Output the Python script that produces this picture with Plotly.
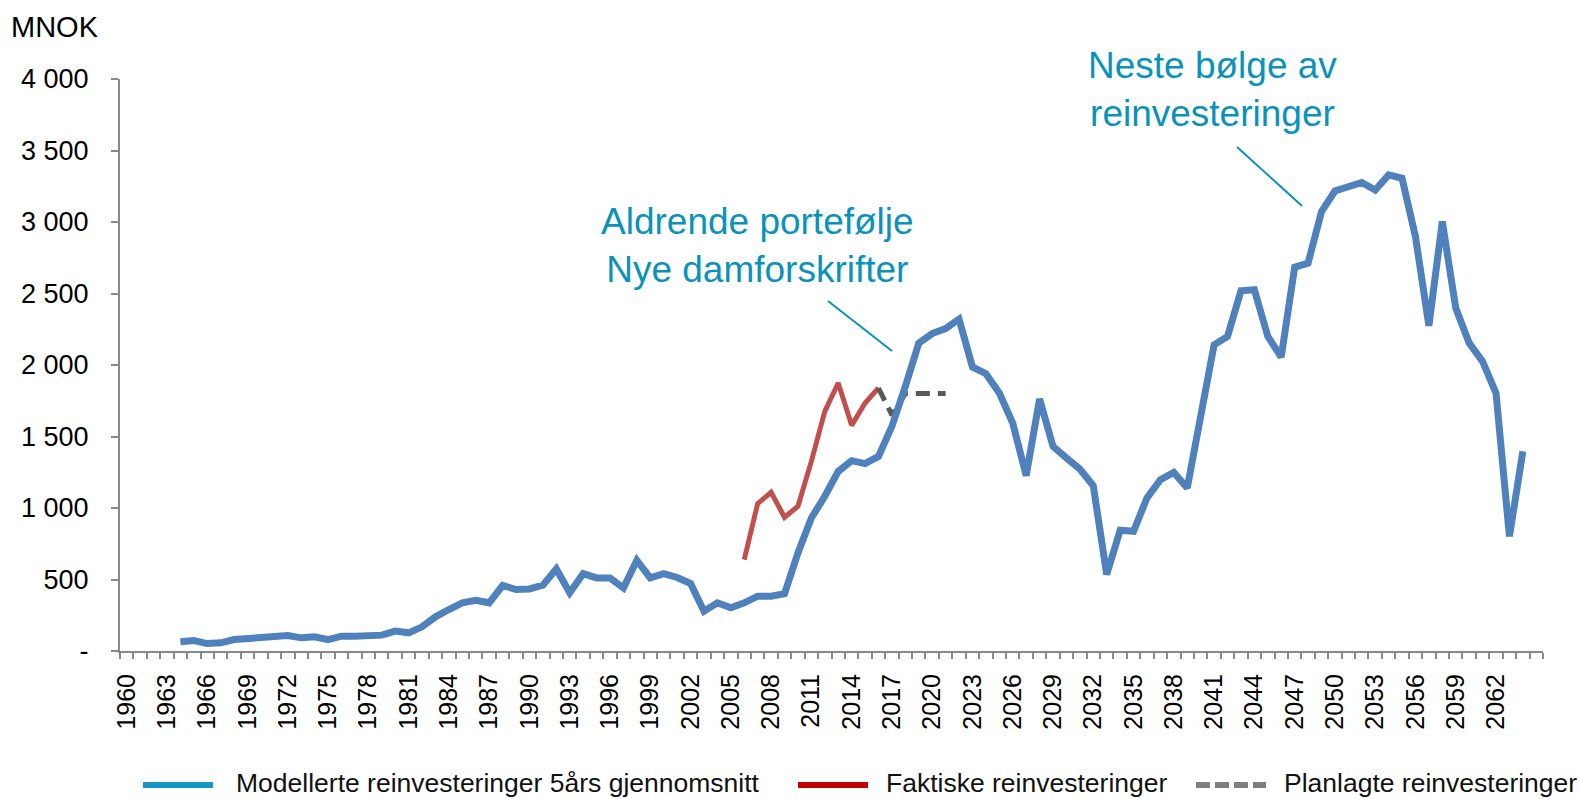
import plotly.graph_objects as go

# ---------------- data ----------------
model_years = list(range(1964, 2065))
model_values = [
    64, 73, 52, 57, 80, 85, 99, 104, 108, 92,          # 1964-1973
    99, 80, 104, 104, 104, 111, 139, 127, 169, 239,     # 1974-1983
    290, 337, 355, 337, 458, 430, 434, 460, 574, 407,   # 1984-1993
    541, 511, 511, 441, 634, 511, 541, 514, 472, 278,   # 1994-2003
    337, 302, 337, 383, 383, 400, 686, 930, 1082, 1256, # 2004-2013
    1331, 1310, 1361, 1571, 1850, 2153, 2220, 2255, 2321, 1986,  # 2014-2023
    1939, 1804, 1594, 1226, 1762, 1431, 1350, 1273, 1156, 535,   # 2024-2033
    844, 837, 1070, 1198, 1249, 1140, 1641, 2141, 2200, 2519,    # 2034-2043
    2526, 2200, 2056, 2684, 2712, 3073, 3217, 3248, 3276, 3224,  # 2044-2053
    3329, 3306, 2898, 2274, 3003, 2398, 2153, 2025, 1804, 802,   # 2054-2063
    1396,                                                        # 2064
]
actual_years = list(range(2006, 2017))
actual_values = [639, 1031, 1110, 935, 1012, 1326, 1676, 1874, 1578, 1734, 1839]
planned_years = list(range(2016, 2022))
planned_values = [1839, 1650, 1800, 1800, 1800, 1800]

first_year, last_year = 1960, 2065
tick_years = list(range(1960, 2063, 3))
tick_labels = [str(y) for y in tick_years]
y_ticks = list(range(0, 4001, 500))
y_tick_labels = ["-" if v == 0 else f"{v:,}".replace(",", " ") for v in y_ticks]

legend_names = ["Modellerte reinvesteringer 5års gjennomsnitt",
                "Faktiske reinvesteringer",
                "Planlagte reinvesteringer"]
note_1 = "Aldrende portefølje<br>Nye damforskrifter"
note_2 = "Neste bølge av<br>reinvesteringer"

# ---------------- layout constants ----------------
W, H = 1579, 799
ML, MR, MT, MB = 120, 36, 79, 148
PW, PH = W - ML - MR, H - MT - MB
FONT = "Liberation Sans, Arial, sans-serif"
TEAL = "#0A92BA"
AXIS = "#888888"


def px(x):
    return (x - ML) / PW


def py(y):
    return (H - MB - y) / PH


fig = go.Figure()
fig.add_trace(go.Scatter(x=actual_years, y=actual_values, mode="lines",
                         line=dict(color="#C0504D", width=5), showlegend=False,
                         name=legend_names[1]))
fig.add_trace(go.Scatter(x=planned_years, y=planned_values, mode="lines",
                         line=dict(color="#595959", width=5, dash="14px,8px"),
                         showlegend=False, name=legend_names[2]))
fig.add_trace(go.Scatter(x=model_years, y=model_values, mode="lines",
                         line=dict(color="#4F81BD", width=7), showlegend=False,
                         name=legend_names[0]))

shapes = []
annotations = []

# leader lines
shapes.append(dict(type="line", xref="paper", yref="paper",
                   x0=px(828), y0=py(301), x1=px(892), y1=py(351),
                   line=dict(color=TEAL, width=2)))
shapes.append(dict(type="line", xref="paper", yref="paper",
                   x0=px(1237), y0=py(147), x1=px(1302), y1=py(206),
                   line=dict(color=TEAL, width=2)))

annotations.append(dict(text=note_1, xref="paper", yref="paper",
                        x=px(757), y=py(245), xanchor="center", yanchor="middle",
                        showarrow=False, font=dict(family=FONT, size=37, color=TEAL)))
annotations.append(dict(text=note_2, xref="paper", yref="paper",
                        x=px(1212), y=py(89), xanchor="center", yanchor="middle",
                        showarrow=False, font=dict(family=FONT, size=37, color=TEAL)))
annotations.append(dict(text="MNOK", xref="paper", yref="paper",
                        x=px(9), y=py(27), xanchor="left", yanchor="middle",
                        showarrow=False, font=dict(family=FONT, size=29, color="#000000")))

# manual legend
leg_items = [
    (legend_names[0], 143, 213, 234, dict(color="#1597C3", width=6)),
    (legend_names[1], 798, 868, 884, dict(color="#C00000", width=6)),
    (legend_names[2], 1196, 1266, 1282, dict(color="#7F7F7F", width=6, dash="14px,5px")),
]
for name, x0, x1, xt, ln in leg_items:
    shapes.append(dict(type="line", xref="paper", yref="paper",
                       x0=px(x0), y0=py(785), x1=px(x1), y1=py(785), line=ln))
    annotations.append(dict(text=name, xref="paper", yref="paper",
                            x=px(xt), y=py(783), xanchor="left", yanchor="middle",
                            showarrow=False,
                            font=dict(family=FONT, size=26.5, color="#111111")))

fig.update_layout(
    width=W, height=H,
    margin=dict(l=ML, r=MR, t=MT, b=MB, pad=0),
    paper_bgcolor="white", plot_bgcolor="white",
    font=dict(family=FONT, color="#000000"),
    showlegend=False,
    shapes=shapes, annotations=annotations,
    xaxis=dict(
        range=[first_year - 0.5, last_year + 0.5],
        showgrid=False, zeroline=False,
        showline=True, linecolor=AXIS, linewidth=2,
        tickmode="array", tickvals=tick_years, ticktext=tick_labels,
        ticks="", tickangle=-90, ticklabelstandoff=11,
        tickfont=dict(family=FONT, size=25, color="#000000"),
        minor=dict(tickmode="linear", tick0=first_year - 0.5, dtick=1,
                   ticks="outside", ticklen=6, tickwidth=1.5, tickcolor=AXIS,
                   showgrid=False),
    ),
    yaxis=dict(
        range=[0, 4000],
        showgrid=False, zeroline=False,
        showline=True, linecolor=AXIS, linewidth=2,
        tickmode="array", tickvals=y_ticks, ticktext=y_tick_labels,
        ticks="outside", ticklen=7, tickwidth=1.5, tickcolor=AXIS,
        ticklabelstandoff=17,
        tickfont=dict(family=FONT, size=27, color="#000000"),
    ),
)

fig.write_html("out.html", config={"displayModeBar": False},
               post_script="document.body.style.margin='0';")
